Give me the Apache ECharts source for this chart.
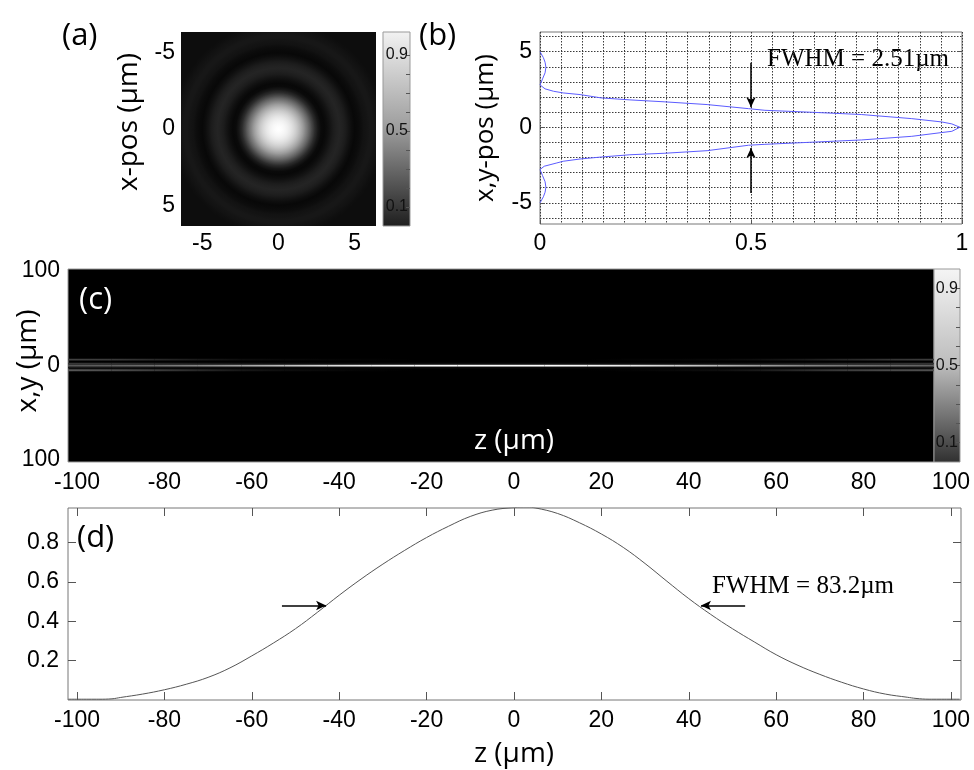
<!DOCTYPE html>
<html>
<head>
<meta charset="utf-8">
<script src="https://cdn.jsdelivr.net/npm/echarts@6/dist/echarts.min.js"></script>
<style>html,body{margin:0;padding:0;background:#fff}#c{width:974px;height:770px}</style>
</head>
<body>
<div id="c"></div>
<script>
// ---------- data ----------
// (a) radial brightness profile of the focal spot (radius in µm, display level 0..1)
const aRadius = [0, 0.2, 0.4, 0.6, 0.8, 1.0, 1.2, 1.4, 1.6, 1.8, 2.0, 2.2, 2.4, 2.6, 2.8, 3.0, 3.2, 3.4, 3.6, 3.8, 4.0, 4.2, 4.4, 4.6, 4.8, 5.0, 5.2, 5.4, 5.6, 5.8, 6.0, 6.2, 6.4, 6.6, 6.8, 7.0, 7.5, 8.0, 8.5, 9.2];
const aLevel  = [1.0, 0.99, 0.97, 0.94, 0.90, 0.85, 0.79, 0.71, 0.62, 0.51, 0.40, 0.28, 0.17, 0.09, 0.04, 0.03, 0.05, 0.08, 0.11, 0.13, 0.14, 0.13, 0.11, 0.08, 0.05, 0.03, 0.04, 0.05, 0.07, 0.08, 0.09, 0.09, 0.08, 0.07, 0.06, 0.05, 0.05, 0.05, 0.05, 0.05];
const aTicks = [-5, 0, 5];

// (b) transverse profile: intensity vs position (µm)
const bPos = [5.0, 4.6, 4.3, 3.97, 3.6, 3.2, 2.8, 2.54, 2.38, 2.27, 2.16, 1.94, 1.81, 1.68, 1.5, 1.23, 1.12, 0.99, 0.84, 0.57, 0.35, 0.22, 0.0, -0.27, -0.35, -0.6, -0.84, -0.99, -1.13, -1.19, -1.55, -1.72, -1.82, -1.97, -2.1, -2.25, -2.36, -2.58, -2.8, -3.2, -3.6, -3.97, -4.3, -4.6, -5.0];
const bIntensity = [0.0, 0.008, 0.012, 0.014, 0.012, 0.006, 0.0, 0.012, 0.032, 0.055, 0.095, 0.145, 0.213, 0.296, 0.396, 0.494, 0.533, 0.644, 0.762, 0.881, 0.952, 0.976, 0.995, 0.976, 0.952, 0.881, 0.762, 0.644, 0.533, 0.494, 0.396, 0.296, 0.213, 0.145, 0.095, 0.055, 0.04, 0.01, 0.0, 0.006, 0.012, 0.014, 0.012, 0.008, 0.0];
const bXTicks = [0, 0.5, 1];
const bYTicks = [-5, 0, 5];
const bYGrid = [-6, -5, -4, -3, -2, -1, 0, 1, 2, 3, 4, 5, 6];

// (c) axial intensity map: brightness along z for a few transverse bands
const cZ = [-100, -90, -80, -70, -60, -50, -40, -30, -20, -10, 0, 10, 20, 30, 40, 50, 60, 70, 80, 90, 100];
const cCore   = [0.34, 0.38, 0.44, 0.53, 0.64, 0.75, 0.85, 0.93, 0.98, 1.0, 1.0, 1.0, 0.97, 0.91, 0.82, 0.72, 0.62, 0.53, 0.47, 0.42, 0.38];
const cHaloUp = [0.22, 0.19, 0.15, 0.11, 0.08, 0.06, 0.05, 0.05, 0.05, 0.05, 0.05, 0.05, 0.05, 0.05, 0.05, 0.06, 0.08, 0.11, 0.15, 0.18, 0.20];
const cHaloDn = [0.10, 0.09, 0.07, 0.06, 0.05, 0.04, 0.04, 0.04, 0.04, 0.04, 0.04, 0.04, 0.04, 0.04, 0.04, 0.04, 0.05, 0.06, 0.07, 0.08, 0.09];
const cSideUp = [0.26, 0.23, 0.17, 0.10, 0.05, 0.03, 0.02, 0.01, 0.0, 0.0, 0.0, 0.0, 0.0, 0.01, 0.02, 0.03, 0.06, 0.10, 0.16, 0.21, 0.24];
const cSideDn = [0.34, 0.30, 0.24, 0.16, 0.09, 0.05, 0.03, 0.01, 0.0, 0.0, 0.0, 0.0, 0.0, 0.01, 0.03, 0.05, 0.10, 0.17, 0.24, 0.29, 0.31];
const cYTicks = [-100, 0, 100];

// (d) on-axis intensity vs z
const dZ = [-102, -95, -92, -90, -85, -80, -75, -70, -65, -60, -55, -50, -45, -40, -35, -30, -25, -20, -15, -10, -5, 0, 3, 5, 10, 15, 20, 25, 30, 35, 40, 45, 50, 55, 60, 65, 70, 75, 80, 85, 90, 92, 95, 102];
const dI = [0.004, 0.004, 0.006, 0.013, 0.03, 0.052, 0.08, 0.115, 0.163, 0.224, 0.29, 0.362, 0.445, 0.532, 0.614, 0.69, 0.76, 0.825, 0.882, 0.932, 0.964, 0.977, 0.979, 0.975, 0.947, 0.9, 0.843, 0.775, 0.693, 0.603, 0.515, 0.435, 0.362, 0.295, 0.23, 0.176, 0.13, 0.09, 0.056, 0.03, 0.014, 0.008, 0.004, 0.004];
const zTicks = [-100, -80, -60, -40, -20, 0, 20, 40, 60, 80, 100];
const dYTicks = [0.2, 0.4, 0.6, 0.8];

// colorbar ticks
const cbTicks = [0.1, 0.2, 0.3, 0.4, 0.5, 0.6, 0.7, 0.8, 0.9];
const cbLabels = [0.1, 0.5, 0.9];

// ---------- build ----------
function gray(v) { const g = Math.round(255 * Math.max(0, Math.min(1, v))); return 'rgb(' + g + ',' + g + ',' + g + ')'; }

const ringData = [];
for (let i = aRadius.length - 1; i >= 1; i--) ringData.push([aRadius[i], aRadius[i - 1], aLevel[i], aLevel[i - 1]]);

const cBands = [
  { lo: -1.2, hi: 1.0, vals: cCore },
  { lo: 1.0, hi: 3.0, vals: cHaloUp },
  { lo: -3.2, hi: -1.2, vals: cHaloDn },
  { lo: 5.2, hi: 7.2, vals: cSideUp },
  { lo: -6.0, hi: -4.0, vals: cSideDn }
];
const cData = [];
cBands.forEach(b => {
  for (let j = 0; j < cZ.length - 1; j++) {
    if (b.vals[j] <= 0 && b.vals[j + 1] <= 0) continue;
    cData.push([cZ[j], cZ[j + 1], b.lo, b.hi, b.vals[j], b.vals[j + 1]]);
  }
});

const bLine = bPos.map((p, i) => [bIntensity[i], p]);
const dLine = dZ.map((z, i) => [z, dI[i]]);

const TICKFONT = 'Liberation Sans';
const TITLEFONT = 'Open Sans';
function lbl(vals, extra) { return Object.assign({ show: true, customValues: vals, color: '#000', fontFamily: TICKFONT, fontSize: 23 }, extra || {}); }
const noLine = { show: false, onZero: false };
const inTick = (vals, len) => ({ show: true, inside: true, length: len, customValues: vals, lineStyle: { color: '#555', width: 1 } });
const dotted = { show: true, lineStyle: { color: '#3a3a3a', width: 1, type: [1.5, 1.5] } };
const cbLabel = { show: true, inside: true, customValues: cbLabels, margin: 2, fontSize: 16, color: '#111', fontFamily: TICKFONT };

const chart = echarts.init(document.getElementById('c'), null, { renderer: 'canvas' });

const gridBase = { containLabel: false, outerBoundsMode: 'none' };
const option = {
  animation: false,
  backgroundColor: '#fff',
  grid: [
    Object.assign({ left: 181, top: 32, width: 195, height: 194, show: true, backgroundColor: '#111', borderWidth: 0 }, gridBase),
    Object.assign({ left: 383, top: 32, width: 27, height: 194 }, gridBase),
    Object.assign({ left: 540, top: 32, width: 422, height: 192, show: true, borderColor: '#777', borderWidth: 1, backgroundColor: '#fff' }, gridBase),
    Object.assign({ left: 68, top: 269, width: 866, height: 193, show: true, borderColor: '#999', borderWidth: 1, backgroundColor: '#000' }, gridBase),
    Object.assign({ left: 934, top: 269, width: 26, height: 193 }, gridBase),
    Object.assign({ left: 68, top: 269, width: 893, height: 193 }, gridBase),
    Object.assign({ left: 68, top: 508, width: 893, height: 192, show: true, borderColor: '#777', borderWidth: 1, backgroundColor: '#fff' }, gridBase)
  ],
  xAxis: [
    { gridIndex: 0, type: 'value', position: 'bottom', min: -6.4, max: 6.4, axisLine: noLine, axisTick: { show: false }, splitLine: { show: false }, axisLabel: lbl(aTicks, { margin: 6 }) },
    { gridIndex: 1, type: 'value', position: 'bottom', min: 0, max: 1, show: false },
    { gridIndex: 2, type: 'value', position: 'bottom', min: 0, max: 1, interval: 0.05, axisLine: noLine, axisTick: { show: false }, axisLabel: { show: false }, splitLine: dotted },
    { gridIndex: 2, type: 'value', position: 'bottom', offset: 0, min: 0, max: 1, axisLine: noLine, axisTick: inTick(bXTicks, 4), splitLine: { show: false }, axisLabel: lbl(bXTicks, { margin: 8 }) },
    { gridIndex: 3, type: 'value', position: 'bottom', min: -100, max: 100, show: false },
    { gridIndex: 4, type: 'value', position: 'bottom', min: 0, max: 1, show: false },
    { gridIndex: 5, type: 'value', position: 'bottom', min: -102.06, max: 102.3, axisLine: noLine, axisTick: { show: false }, splitLine: { show: false }, axisLabel: lbl(zTicks, { margin: 9 }) },
    { gridIndex: 6, type: 'value', position: 'bottom', min: -102.06, max: 102.3, axisLine: noLine, axisTick: inTick(zTicks, 8), splitLine: { show: false }, axisLabel: lbl(zTicks, { margin: 9 }) },
    { gridIndex: 6, type: 'value', position: 'top', min: -102.06, max: 102.3, axisLine: noLine, axisTick: inTick(zTicks, 8), splitLine: { show: false }, axisLabel: { show: false } }
  ],
  yAxis: [
    { gridIndex: 0, type: 'value', position: 'left', min: -6.35, max: 6.35, inverse: true, axisLine: noLine, axisTick: { show: false }, splitLine: { show: false }, axisLabel: lbl(aTicks, { margin: 6 }) },
    { gridIndex: 1, type: 'value', position: 'right', z: 10, min: 0, max: 1.02, axisLine: noLine, axisTick: inTick(cbTicks, 4), splitLine: { show: false }, axisLabel: cbLabel },
    { gridIndex: 2, type: 'value', position: 'left', min: -6.4, max: 6.3, axisLine: noLine, axisTick: { show: false, customValues: bYGrid }, axisLabel: { show: false }, splitLine: dotted },
    { gridIndex: 2, type: 'value', position: 'left', offset: 0, min: -6.4, max: 6.3, axisLine: noLine, axisTick: inTick(bYTicks, 5), splitLine: { show: false }, axisLabel: lbl(bYTicks, { margin: 8 }) },
    { gridIndex: 2, type: 'value', position: 'right', min: -6.4, max: 6.3, axisLine: noLine, axisTick: inTick(bYTicks, 5), splitLine: { show: false }, axisLabel: { show: false } },
    { gridIndex: 3, type: 'value', position: 'left', min: -102, max: 102, axisLine: noLine, axisTick: { show: false }, splitLine: { show: false }, axisLabel: lbl(cYTicks, { margin: 8, formatter: v => String(Math.abs(v)) }) },
    { gridIndex: 4, type: 'value', position: 'right', z: 10, min: 0, max: 1.0, axisLine: noLine, axisTick: inTick(cbTicks, 4), splitLine: { show: false }, axisLabel: cbLabel },
    { gridIndex: 5, type: 'value', position: 'left', min: 0, max: 1, show: false },
    { gridIndex: 6, type: 'value', position: 'left', min: 0, max: 0.975, axisLine: noLine, axisTick: inTick(dYTicks, 8), splitLine: { show: false }, axisLabel: lbl(dYTicks, { margin: 9 }) },
    { gridIndex: 6, type: 'value', position: 'right', min: 0, max: 0.975, axisLine: noLine, axisTick: inTick(dYTicks, 8), splitLine: { show: false }, axisLabel: { show: false } }
  ],
  series: [
    { // (a) focal spot as concentric rings
      type: 'custom', xAxisIndex: 0, yAxisIndex: 0, silent: true, clip: true, data: ringData,
      renderItem: function (params, api) {
        const rOut = api.value(0), rIn = api.value(1), lvOut = api.value(2), lvIn = api.value(3);
        const c = api.coord([0, 0]);
        const s = api.size([rOut, rOut]);
        const cs = params.coordSys;
        const f = rOut > 0 ? rIn / rOut : 0;
        return {
          type: 'circle', shape: { cx: c[0], cy: c[1], r: s[0] },
          clipPath: { type: 'rect', shape: { x: cs.x, y: cs.y, width: cs.width, height: cs.height } },
          style: { fill: new echarts.graphic.RadialGradient(0.5, 0.5, 0.5, [
            { offset: 0, color: gray(lvIn) }, { offset: f, color: gray(lvIn) }, { offset: 1, color: gray(lvOut) }]) }
        };
      }
    },
    { // (a) colorbar
      type: 'custom', xAxisIndex: 1, yAxisIndex: 1, silent: true, z: 1, data: [[0, 1.02]],
      renderItem: function (params, api) {
        const p0 = api.coord([0, api.value(1)]), p1 = api.coord([1, api.value(0)]);
        return { type: 'rect', shape: { x: p0[0], y: p0[1], width: p1[0] - p0[0], height: p1[1] - p0[1] },
          style: { fill: new echarts.graphic.LinearGradient(0, 0, 0, 1, [{ offset: 0, color: '#f2f2f2' }, { offset: 0.5, color: '#9c9c9c' }, { offset: 1, color: '#1e1e1e' }]), stroke: '#999', lineWidth: 1 } };
      }
    },
    { // (b) transverse profile
      type: 'line', xAxisIndex: 2, yAxisIndex: 2, data: bLine, showSymbol: false, symbol: 'none', smooth: false,
      lineStyle: { color: '#5c5cff', width: 1 },
      markLine: { silent: true, symbol: ['none', 'arrow'], symbolSize: [7, 10], label: { show: false }, lineStyle: { color: '#000', width: 1.5, type: 'solid' },
        data: [[{ coord: [0.5, 4.26] }, { coord: [0.5, 1.32] }], [{ coord: [0.5, -4.35] }, { coord: [0.5, -1.38] }]] }
    },
    { // (c) axial map
      type: 'custom', xAxisIndex: 4, yAxisIndex: 5, silent: true, clip: true, data: cData,
      renderItem: function (params, api) {
        const p0 = api.coord([api.value(0), api.value(3)]);
        const p1 = api.coord([api.value(1), api.value(2)]);
        return { type: 'rect', shape: { x: p0[0], y: p0[1], width: p1[0] - p0[0], height: p1[1] - p0[1] },
          style: { fill: new echarts.graphic.LinearGradient(0, 0, 1, 0, [{ offset: 0, color: gray(api.value(4)) }, { offset: 1, color: gray(api.value(5)) }]) } };
      }
    },
    { // (c) colorbar
      type: 'custom', xAxisIndex: 5, yAxisIndex: 6, silent: true, z: 1, data: [[0, 1.0]],
      renderItem: function (params, api) {
        const p0 = api.coord([0, api.value(1)]), p1 = api.coord([1, api.value(0)]);
        return { type: 'rect', shape: { x: p0[0], y: p0[1], width: p1[0] - p0[0], height: p1[1] - p0[1] },
          style: { fill: new echarts.graphic.LinearGradient(0, 0, 0, 1, [{ offset: 0, color: '#f5f5f5' }, { offset: 0.5, color: '#bcbcbc' }, { offset: 1, color: '#303030' }]), stroke: '#999', lineWidth: 1 } };
      }
    },
    { // (d) axial profile
      type: 'line', xAxisIndex: 7, yAxisIndex: 8, data: dLine, showSymbol: false, symbol: 'none', smooth: 0.4,
      lineStyle: { color: '#555', width: 1 },
      markLine: { silent: true, symbol: ['none', 'arrow'], symbolSize: [7, 10], label: { show: false }, lineStyle: { color: '#000', width: 1.5, type: 'solid' },
        data: [[{ coord: [-53.1, 0.48] }, { coord: [-43.0, 0.48] }], [{ coord: [52.9, 0.48] }, { coord: [42.8, 0.48] }]] }
    }
  ],
  graphic: [
    { type: 'text', x: 62, y: 36, style: { text: '(a)', fontSize: 31, fontFamily: TITLEFONT, fill: '#000', align: 'left', verticalAlign: 'middle' } },
    { type: 'text', x: 129, y: 122, rotation: Math.PI / 2, style: { text: 'x-pos (µm)', fontSize: 28, fontFamily: TITLEFONT, fill: '#000', align: 'center', verticalAlign: 'middle' } },
    { type: 'text', x: 419, y: 36, style: { text: '(b)', fontSize: 31, fontFamily: TITLEFONT, fill: '#000', align: 'left', verticalAlign: 'middle' } },
    { type: 'text', x: 486, y: 128, rotation: Math.PI / 2, style: { text: 'x,y-pos (µm)', fontSize: 26, fontFamily: TITLEFONT, fill: '#000', align: 'center', verticalAlign: 'middle' } },
    { type: 'text', x: 767, y: 59, style: { text: 'FWHM = 2.51µm', fontSize: 25, fontFamily: 'Liberation Serif', fill: '#000', align: 'left', verticalAlign: 'middle' } },
    { type: 'text', x: 79, y: 300, style: { text: '(c)', fontSize: 31, fontFamily: TITLEFONT, fill: '#fff', align: 'left', verticalAlign: 'middle' } },
    { type: 'text', x: 28, y: 361, rotation: Math.PI / 2, style: { text: 'x,y (µm)', fontSize: 28, fontFamily: TITLEFONT, fill: '#000', align: 'center', verticalAlign: 'middle' } },
    { type: 'text', x: 514, y: 441, style: { text: 'z (µm)', fontSize: 28, fontFamily: TITLEFONT, fill: '#fff', align: 'center', verticalAlign: 'middle' } },
    { type: 'text', x: 77, y: 538, style: { text: '(d)', fontSize: 31, fontFamily: TITLEFONT, fill: '#000', align: 'left', verticalAlign: 'middle' } },
    { type: 'text', x: 712, y: 586, style: { text: 'FWHM = 83.2µm', fontSize: 25, fontFamily: 'Liberation Serif', fill: '#000', align: 'left', verticalAlign: 'middle' } },
    { type: 'text', x: 514, y: 754, style: { text: 'z (µm)', fontSize: 28, fontFamily: TITLEFONT, fill: '#000', align: 'center', verticalAlign: 'middle' } }
  ]
};
chart.setOption(option);
</script>
</body>
</html>
